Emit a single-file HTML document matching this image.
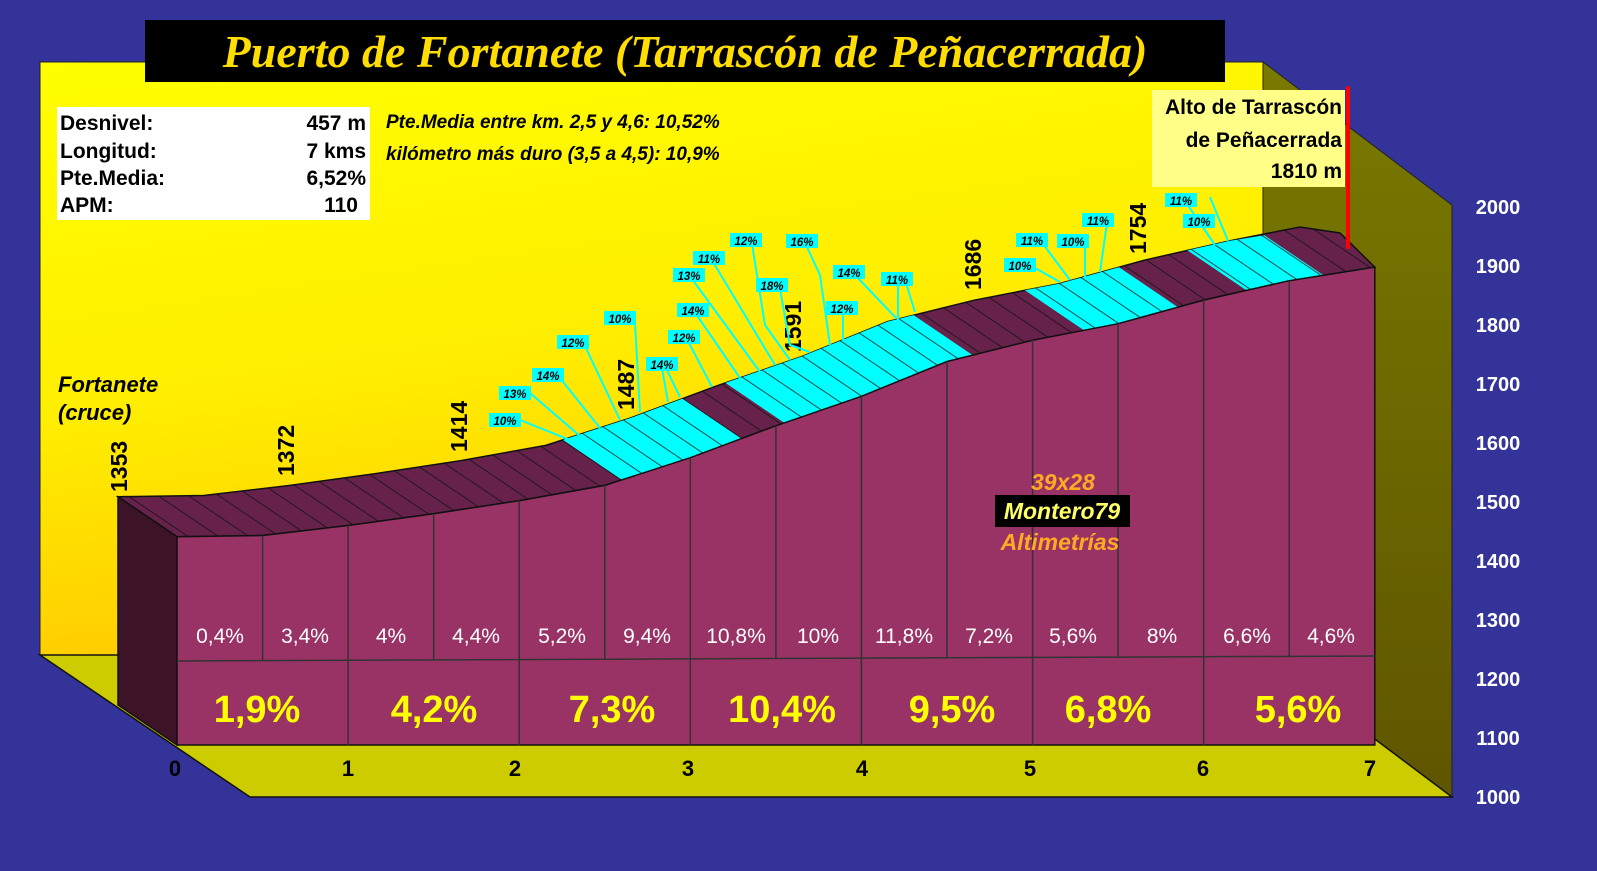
<!DOCTYPE html>
<html><head><meta charset="utf-8"><style>
html,body{margin:0;padding:0;background:#333399;}
svg{display:block;font-family:"Liberation Sans",sans-serif;}
</style></head><body>
<svg width="1597" height="871" viewBox="0 0 1597 871" xmlns="http://www.w3.org/2000/svg">
<defs>
<linearGradient id="bw" x1="0" y1="0" x2="0.3" y2="1">
<stop offset="0" stop-color="#ffff00"/><stop offset="0.55" stop-color="#ffee00"/><stop offset="1" stop-color="#ffc800"/>
</linearGradient>
<linearGradient id="rw" x1="0" y1="0" x2="0" y2="1">
<stop offset="0" stop-color="#7a7a00"/><stop offset="1" stop-color="#5f5500"/>
</linearGradient>
<pattern id="hd" width="17" height="17" patternUnits="userSpaceOnUse" patternTransform="rotate(-56)">
<rect width="17" height="17" fill="#66224a"/><line x1="0" y1="0" x2="0" y2="17" stroke="#111" stroke-width="1.5"/>
</pattern>
<pattern id="hc" width="17" height="17" patternUnits="userSpaceOnUse" patternTransform="rotate(-56)">
<rect width="17" height="17" fill="#00ffff"/><line x1="0" y1="0" x2="0" y2="17" stroke="#111" stroke-width="1.5"/>
</pattern>
</defs>
<rect width="1597" height="871" fill="#333399"/>
<!-- walls -->
<polygon points="40,62 1263,62 1263,655 40,655" fill="url(#bw)" stroke="#222" stroke-width="1"/>
<polygon points="1263,62 1452,205 1452,797 1263,655" fill="url(#rw)" stroke="#222" stroke-width="1"/>
<polygon points="40,655 1263,655 1452,797 250,797" fill="#cccc00" stroke="#111" stroke-width="1.5"/>
<!-- strip -->
<polygon points="118,496.7 203.6,495.5 289.1,485.5 374.7,473.7 460.2,460.7 545.8,445.4 631.3,417.7 716.9,385.8 802.4,356.3 888,321.5 973.6,300.3 1059.1,283.7 1144.7,260.1 1230.2,240.7 1300,227 1340,233 1374.8,267.1 1289.2,280.7 1203.7,300.1 1118.1,323.7 1032.6,340.3 947,361.5 861.4,396.3 775.9,425.8 690.3,457.7 604.8,485.4 519.2,500.7 433.7,513.7 348.1,525.5 262.6,535.5 177,536.7" fill="url(#hd)" stroke="#111" stroke-width="1.5"/>
<polygon points="621.9,479.9 690.3,457.7 741.6,438.6 682.6,398.6 631.3,417.7 562.9,439.9" fill="url(#hc)"/>
<polygon points="784.4,422.9 861.4,396.3 947,361.5 972.6,355.1 913.6,315.1 888,321.5 802.4,356.3 725.4,382.9" fill="url(#hc)"/>
<polygon points="1083.9,330.3 1118.1,323.7 1178,307.2 1119,267.2 1059.1,283.7 1024.9,290.3" fill="url(#hc)"/>
<polygon points="1246.5,290.4 1289.2,280.7 1323.4,275.3 1264.4,235.3 1230.2,240.7 1187.5,250.4" fill="url(#hc)"/>
<!-- left side -->
<polygon points="118,496.7 177,536.7 177,745 118,705" fill="#3d1328" stroke="#111" stroke-width="1.5"/>
<!-- front -->
<polygon points="177,536.7 262.6,535.5 348.1,525.5 433.7,513.7 519.2,500.7 604.8,485.4 690.3,457.7 775.9,425.8 861.4,396.3 947,361.5 1032.6,340.3 1118.1,323.7 1203.7,300.1 1289.2,280.7 1374.8,267.1 1374.8,745 177,745" fill="#993366" stroke="#111" stroke-width="1.5"/>
<line x1="177" y1="661" x2="1375" y2="656" stroke="#333" stroke-width="1.5"/>
<g stroke="#333" stroke-width="1.5">
<line x1="262.6" y1="535.5" x2="262.6" y2="661"/><line x1="348.1" y1="525.5" x2="348.1" y2="745"/>
<line x1="433.7" y1="513.7" x2="433.7" y2="660"/><line x1="519.2" y1="500.7" x2="519.2" y2="745"/>
<line x1="604.8" y1="485.4" x2="604.8" y2="659"/><line x1="690.3" y1="457.7" x2="690.3" y2="745"/>
<line x1="775.9" y1="425.8" x2="775.9" y2="659"/><line x1="861.4" y1="396.3" x2="861.4" y2="745"/>
<line x1="947" y1="361.5" x2="947" y2="658"/><line x1="1032.6" y1="340.3" x2="1032.6" y2="745"/>
<line x1="1118.1" y1="323.7" x2="1118.1" y2="657"/><line x1="1203.7" y1="300.1" x2="1203.7" y2="745"/>
<line x1="1289.2" y1="280.7" x2="1289.2" y2="656"/>
</g>
<g fill="#fff" font-size="21" text-anchor="middle">
<text x="220" y="643">0,4%</text><text x="305" y="643">3,4%</text><text x="391" y="643">4%</text><text x="476" y="643">4,4%</text><text x="562" y="643">5,2%</text><text x="647" y="643">9,4%</text><text x="736" y="643">10,8%</text><text x="818" y="643">10%</text><text x="904" y="643">11,8%</text><text x="989" y="643">7,2%</text><text x="1073" y="643">5,6%</text><text x="1162" y="643">8%</text><text x="1247" y="643">6,6%</text><text x="1331" y="643">4,6%</text>
</g>
<g fill="#ffff00" font-size="38" font-weight="bold" text-anchor="middle">
<text x="257" y="722">1,9%</text><text x="434" y="722">4,2%</text><text x="612" y="722">7,3%</text><text x="782" y="722">10,4%</text><text x="952" y="722">9,5%</text><text x="1108" y="722">6,8%</text><text x="1298" y="722">5,6%</text>
</g>
<!-- axes labels -->
<g font-size="22" font-weight="bold" text-anchor="middle" fill="#000">
<text x="175" y="776">0</text><text x="348" y="776">1</text><text x="515" y="776">2</text><text x="688" y="776">3</text><text x="862" y="776">4</text><text x="1030" y="776">5</text><text x="1203" y="776">6</text><text x="1370" y="776">7</text>
</g>
<g font-size="20" font-weight="bold" fill="#fff" text-anchor="middle">
<text x="1498" y="214">2000</text><text x="1498" y="273">1900</text><text x="1498" y="332">1800</text><text x="1498" y="391">1700</text><text x="1498" y="450">1600</text><text x="1498" y="509">1500</text><text x="1498" y="568">1400</text><text x="1498" y="627">1300</text><text x="1498" y="686">1200</text><text x="1498" y="745">1100</text><text x="1498" y="804">1000</text>
</g>
<!-- elevation labels -->
<g font-size="23" font-weight="bold" fill="#000">
<text transform="translate(127,492) rotate(-90)">1353</text>
<text transform="translate(294,476) rotate(-90)">1372</text>
<text transform="translate(467,452) rotate(-90)">1414</text>
<text transform="translate(634,410) rotate(-90)">1487</text>
<text transform="translate(801,352) rotate(-90)">1591</text>
<text transform="translate(981,290) rotate(-90)">1686</text>
<text transform="translate(1146,254) rotate(-90)">1754</text>
</g>
<!-- small labels -->
<g stroke="#00ffff" stroke-width="2" fill="none">
<polyline points="520,420 570,440"/><polyline points="530,393 580,436"/><polyline points="560,378 600,428"/><polyline points="585,346 620,420"/><polyline points="635,323 640,412"/>
<polyline points="662,368 668,402"/><polyline points="666,368 680,397"/><polyline points="688,341 712,387"/><polyline points="696,314 740,378"/><polyline points="692,279 760,372"/><polyline points="713,262 775,365"/>
<polyline points="752,244 765,325 790,360"/><polyline points="780,289 790,345 810,352"/><polyline points="806,245 820,275 830,345"/><polyline points="856,276 896,318"/><polyline points="843,312 843,340"/><polyline points="906,283 915,312"/><polyline points="898,283 898,322"/>
<polyline points="1035,268 1060,282"/><polyline points="1043,244 1070,280"/><polyline points="1085,244 1085,278"/><polyline points="1107,223 1100,272"/><polyline points="1187,204 1215,245"/><polyline points="1210,197 1228,241"/>
</g>
<g font-size="11.5" font-weight="bold" font-style="italic" fill="#000" text-anchor="middle">
<g fill="#00ffff"><rect x="489" y="413" width="32" height="14"/><rect x="499" y="386" width="32" height="14"/><rect x="532" y="368" width="32" height="14"/><rect x="557" y="335" width="32" height="14"/><rect x="604" y="311" width="32" height="14"/><rect x="646" y="357" width="32" height="14"/><rect x="668" y="330" width="32" height="14"/><rect x="677" y="303" width="32" height="14"/><rect x="673" y="268" width="32" height="14"/><rect x="693" y="251" width="32" height="14"/><rect x="730" y="233" width="32" height="14"/><rect x="756" y="278" width="32" height="14"/><rect x="786" y="234" width="32" height="14"/><rect x="833" y="265" width="32" height="14"/><rect x="826" y="301" width="32" height="14"/><rect x="881" y="272" width="32" height="14"/><rect x="1004" y="258" width="32" height="14"/><rect x="1016" y="233" width="32" height="14"/><rect x="1057" y="234" width="32" height="14"/><rect x="1082" y="213" width="32" height="14"/><rect x="1165" y="193" width="32" height="14"/><rect x="1183" y="214" width="32" height="14"/></g>
<text x="505" y="425">10%</text><text x="515" y="398">13%</text><text x="548" y="380">14%</text><text x="573" y="347">12%</text><text x="620" y="323">10%</text><text x="662" y="369">14%</text><text x="684" y="342">12%</text><text x="693" y="315">14%</text><text x="689" y="280">13%</text><text x="709" y="263">11%</text><text x="746" y="245">12%</text><text x="772" y="290">18%</text><text x="802" y="246">16%</text><text x="849" y="277">14%</text><text x="842" y="313">12%</text><text x="897" y="284">11%</text><text x="1020" y="270">10%</text><text x="1032" y="245">11%</text><text x="1073" y="246">10%</text><text x="1098" y="225">11%</text><text x="1181" y="205">11%</text><text x="1199" y="226">10%</text>
</g>
<!-- title -->
<rect x="145" y="20" width="1080" height="62" fill="#000"/>
<text x="685" y="67" text-anchor="middle" font-family="Liberation Serif,serif" font-size="46" font-weight="bold" font-style="italic" fill="#ffdd00">Puerto de Fortanete (Tarrascón de Peñacerrada)</text>
<!-- info box -->
<rect x="57" y="107" width="313" height="113" fill="#fff"/>
<g font-size="21" font-weight="bold" fill="#000">
<text x="60" y="130">Desnivel:</text><text x="60" y="158">Longitud:</text><text x="60" y="185">Pte.Media:</text><text x="60" y="212">APM:</text>
<g text-anchor="end"><text x="366" y="130">457 m</text><text x="366" y="158">7 kms</text><text x="366" y="185">6,52%</text><text x="358" y="212">110</text></g>
</g>
<g font-size="19" font-weight="bold" font-style="italic" fill="#000">
<text x="386" y="128">Pte.Media entre km. 2,5 y 4,6: 10,52%</text>
<text x="386" y="160">kilómetro más duro (3,5 a 4,5): 10,9%</text>
</g>
<g font-size="22" font-weight="bold" font-style="italic" fill="#000">
<text x="58" y="392">Fortanete</text><text x="58" y="420">(cruce)</text>
</g>
<!-- summit -->
<rect x="1152" y="90" width="193" height="97" fill="#ffff88"/>
<g font-size="21" font-weight="bold" fill="#000" text-anchor="end">
<text x="1342" y="114">Alto de Tarrascón</text><text x="1342" y="147">de Peñacerrada</text><text x="1342" y="178">1810 m</text>
</g>
<line x1="1348" y1="88" x2="1348" y2="247" stroke="#ff0000" stroke-width="4" stroke-linecap="round"/>
<!-- watermark -->
<g font-size="23" font-weight="bold" font-style="italic" text-anchor="middle">
<text x="1063" y="490" fill="#ffaa22">39x28</text>
<rect x="995" y="495" width="135" height="32" fill="#000"/>
<text x="1062" y="519" fill="#ffff66">Montero79</text>
<text x="1060" y="550" fill="#ffaa22">Altimetrías</text>
</g>
</svg>
</body></html>
